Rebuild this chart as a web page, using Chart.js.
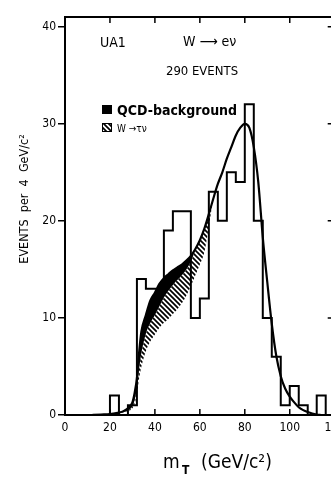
<!DOCTYPE html>
<html>
<head>
    <title>UA1 W -> e nu transverse mass</title>
    <script src="https://cdn.jsdelivr.net/npm/chart.js"></script>
    <style>
        html, body { margin: 0; padding: 0; overflow: hidden; background: #fff; }
    </style>
</head>
<body>
    <canvas id="grafico" width="351" height="478"></canvas>

    <script>
        // histogram: lower bin edges (GeV/c^2) and events per 4 GeV bin
        const binEdges = [16, 20, 24, 28, 32, 36, 40, 44, 48, 52, 56, 60, 64, 68, 72, 76, 80, 84, 88, 92, 96, 100, 104, 108, 112, 116, 120];
        const counts   = [0,  2,  0,  1,  14, 13, 13, 19, 21, 21, 10, 12, 23, 20, 25, 24, 32, 20, 10, 6,  1,  3,   1,   0,   2,   0,   0];

        // fitted curves
        const curveX = [12, 16, 20, 24, 26, 28, 30, 31, 32, 33, 34, 36, 38, 40, 42, 44, 46, 48, 50, 52, 54, 56, 58, 60, 62, 64, 66, 68, 70, 72, 74, 76, 78, 80, 82, 84, 86, 88, 90, 92, 94, 96, 98, 100, 102, 104, 106, 108, 110, 112, 114];
        // total fit (e nu + tau nu + QCD)
        const totalFit = [0, 0.05, 0.1, 0.25, 0.4, 0.7, 1.3, 2.3, 3.8, 6.5, 8.6, 10.3, 11.8, 12.6, 13.5, 14.1, 14.5, 14.9, 15.2, 15.5, 15.9, 16.4, 17.1, 18.0, 19.2, 20.7, 22.3, 23.8, 25.0, 26.4, 27.6, 28.8, 29.6, 30.0, 29.6, 27.6, 24.0, 18.3, 13.7, 9.4, 6.1, 4.0, 2.7, 1.9, 1.3, 0.8, 0.5, 0.3, 0.15, 0.05, 0];
        // e nu + tau nu (below the QCD band)
        const wFit = [0, 0.04, 0.08, 0.2, 0.3, 0.5, 0.9, 1.6, 2.8, 4.8, 6.4, 8.4, 9.5, 10.3, 11.2, 12.1, 12.8, 13.4, 13.9, 14.4, 15.0, 15.8, 17.0, 18.0, 19.2, 20.7, 22.3, 23.8, 25.0, 26.4, 27.6, 28.8, 29.6, 30.0, 29.6, 27.6, 24.0, 18.3, 13.7, 9.4, 6.1, 4.0, 2.7, 1.9, 1.3, 0.8, 0.5, 0.3, 0.15, 0.05, 0];
        // e nu only (below the tau nu band)
        const enuFit = [0, 0.03, 0.06, 0.15, 0.25, 0.4, 0.7, 1.2, 2.2, 3.8, 5.0, 6.6, 7.6, 8.3, 9.0, 9.5, 9.9, 10.4, 10.9, 11.5, 12.3, 13.3, 14.4, 15.5, 16.8, 19.4, 22.3, 23.8, 25.0, 26.4, 27.6, 28.8, 29.6, 30.0, 29.6, 27.6, 24.0, 18.3, 13.7, 9.4, 6.1, 4.0, 2.7, 1.9, 1.3, 0.8, 0.5, 0.3, 0.15, 0.05, 0];

        const xTicks = [0, 20, 40, 60, 80, 100, 120];
        const yTicks = [0, 10, 20, 30, 40];

        const FONT = "'DejaVu Sans Condensed', 'Liberation Sans Narrow', 'DejaVu Sans', sans-serif";
        Chart.defaults.font.family = FONT;
        Chart.defaults.color = '#000';

        // hatch pattern for W -> tau nu
        function makeHatch() {
            const pc = document.createElement('canvas');
            pc.width = 5; pc.height = 5;
            const g = pc.getContext('2d');
            g.strokeStyle = '#000';
            g.lineWidth = 1.7;
            g.beginPath();
            g.moveTo(-1, -1); g.lineTo(6, 6);
            g.moveTo(-1, 4); g.lineTo(1, 6);
            g.moveTo(4, -1); g.lineTo(6, 1);
            g.stroke();
            return g.createPattern(pc, 'repeat');
        }
        const hatch = makeHatch();

        const pts = (xs, ys) => xs.map((x, i) => ({ x: x, y: ys[i] }));

        // frame, inward ticks and all the annotation text
        const decor = {
            id: 'decor',
            afterDraw(chart) {
                const { ctx, chartArea: a, scales: { x, y } } = chart;
                ctx.save();
                ctx.strokeStyle = '#000';
                ctx.lineWidth = 2;
                ctx.strokeRect(a.left, a.top, a.right - a.left, a.bottom - a.top);

                ctx.lineWidth = 1.5;
                ctx.beginPath();
                xTicks.forEach(v => {
                    const px = x.getPixelForValue(v);
                    ctx.moveTo(px, a.bottom); ctx.lineTo(px, a.bottom - 6);
                    ctx.moveTo(px, a.top); ctx.lineTo(px, a.top + 6);
                });
                yTicks.forEach(v => {
                    const py = y.getPixelForValue(v);
                    ctx.moveTo(a.right, py); ctx.lineTo(a.right - 7, py);
                });
                ctx.stroke();

                ctx.fillStyle = '#000';
                ctx.textBaseline = 'alphabetic';
                ctx.textAlign = 'left';
                ctx.font = '14px ' + FONT;
                ctx.fillText('UA1', 100, 47);
                ctx.fillText('W \u27F6 e\u03BD', 183, 46);
                ctx.textAlign = 'center';
                ctx.font = '13px ' + FONT;
                ctx.fillText('290 EVENTS', 202, 75);

                // legend
                ctx.fillRect(102, 105, 10, 9);
                ctx.textAlign = 'left';
                ctx.font = 'bold 14px ' + FONT;
                ctx.fillText('QCD-background', 117, 115);
                ctx.fillStyle = hatch;
                ctx.fillRect(102, 123, 10, 9);
                ctx.lineWidth = 1;
                ctx.strokeRect(102.5, 123.5, 9, 8);
                ctx.fillStyle = '#000';
                ctx.font = '10px ' + FONT;
                ctx.fillText('W \u2192\u03C4\u03BD', 117, 132);

                // axis titles
                ctx.save();
                ctx.translate(28, 199);
                ctx.rotate(-Math.PI / 2);
                ctx.textAlign = 'center';
                ctx.font = '12.5px ' + FONT;
                ctx.fillText('EVENTS  per  4  GeV/c\u00B2', 0, 0);
                ctx.restore();

                ctx.textAlign = 'left';
                ctx.font = '19px ' + FONT;
                ctx.fillText('m', 163, 468);
                ctx.font = 'bold 12px ' + FONT;
                ctx.fillText('T', 182, 474);
                ctx.font = '19px ' + FONT;
                ctx.fillText('(GeV/c\u00B2)', 201, 468);
                ctx.restore();
            }
        };

        const ctx = document.getElementById('grafico').getContext('2d');
        const myChart = new Chart(ctx, {
            type: 'line',
            data: {
                datasets: [
                    {
                        label: 'Data',
                        data: pts(binEdges, counts),
                        stepped: true,
                        borderColor: '#000',
                        borderWidth: 2,
                        pointRadius: 0,
                        fill: false
                    },
                    {
                        label: 'QCD-background',
                        data: pts(curveX, totalFit),
                        borderColor: '#000',
                        borderWidth: 2.2,
                        pointRadius: 0,
                        cubicInterpolationMode: 'monotone',
                        fill: { target: 2, above: '#000', below: '#000' }
                    },
                    {
                        label: 'W \u2192 \u03C4\u03BD',
                        data: pts(curveX, wFit),
                        borderWidth: 0,
                        borderColor: 'rgba(0,0,0,0)',
                        pointRadius: 0,
                        cubicInterpolationMode: 'monotone',
                        fill: { target: 3, above: hatch, below: hatch }
                    },
                    {
                        label: 'W \u2192 e\u03BD',
                        data: pts(curveX, enuFit),
                        borderWidth: 0,
                        borderColor: 'rgba(0,0,0,0)',
                        pointRadius: 0,
                        cubicInterpolationMode: 'monotone',
                        fill: false
                    }
                ]
            },
            options: {
                responsive: false,
                animation: false,
                layout: { padding: { top: 17, right: 10, left: 0, bottom: 0 } },
                plugins: {
                    legend: { display: false },
                    tooltip: { enabled: false }
                },
                scales: {
                    x: {
                        type: 'linear',
                        min: 0,
                        max: 120,
                        grid: { display: false, drawTicks: false },
                        border: { display: false },
                        ticks: { stepSize: 20, padding: 6, font: { size: 12 }, maxRotation: 0, includeBounds: false },
                        afterFit(s) { s.height = 63; }
                    },
                    y: {
                        min: 0,
                        max: 41,
                        grid: { drawOnChartArea: false, drawTicks: true, tickLength: 7, color: '#000', lineWidth: 1.5 },
                        border: { display: false },
                        ticks: { stepSize: 10, padding: 2, font: { size: 12 }, includeBounds: false },
                        afterFit(s) { s.width = 65; }
                    }
                }
            },
            plugins: [decor]
        });
    </script>
</body>
</html>
